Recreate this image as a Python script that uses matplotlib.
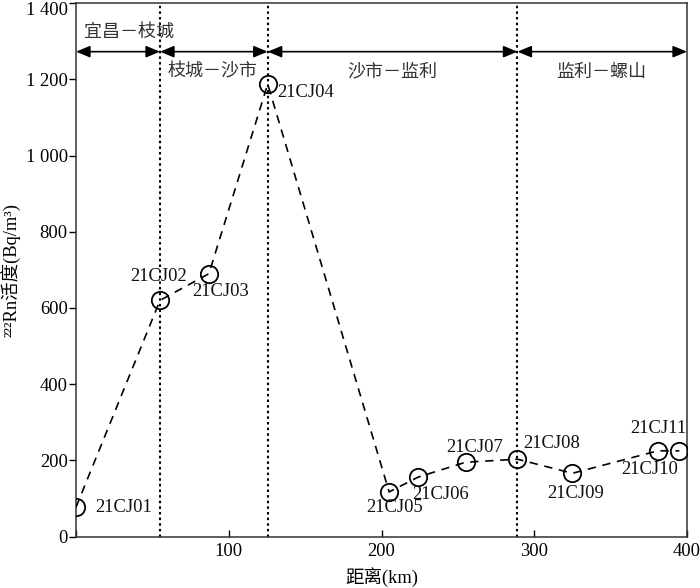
import matplotlib
matplotlib.use("Agg")
import matplotlib.pyplot as plt
import matplotlib.transforms as mtransforms
from matplotlib.ticker import FuncFormatter, MultipleLocator

FAM = ['Liberation Serif', 'Noto Sans CJK SC']
plt.rcParams['font.family'] = FAM

# ---- data ----
stations = ['21CJ01', '21CJ02', '21CJ03', '21CJ04', '21CJ05', '21CJ06',
            '21CJ07', '21CJ08', '21CJ09', '21CJ10', '21CJ11']
distance_km = [0, 55, 87, 125.5, 205, 224, 255, 289, 325, 381, 395]
rn_activity = [77, 620, 690, 1188, 117, 156, 195, 203, 166, 225, 225]

boundaries = [0, 55, 125.5, 289, 400]
boundary_lines = [55, 125.5, 289]
section_names = ['宜昌－枝城', '枝城－沙市', '沙市－监利', '监利－螺山']
section_label_x = [34.6, 89.7, 207, 343.7]
section_label_y = [1325, 1220, 1220, 1220]

# label offsets in pixels (dx, dy, ha)
label_offsets = [(19, 0, 'left'), (-1, 24, 'center'), (12, -18, 'center'),
                 (10, -8, 'left'), (5, -16, 'center'), (22, -17, 'center'),
                 (9, 15, 'center'), (6, 16, 'left'), (3, -20, 'center'),
                 (-8, -19, 'center'), (-21, 22, 'center')]

fig = plt.figure(figsize=(7.0, 5.88), dpi=100)
ax = fig.add_axes([76/700, 1-536.5/588, (687-76)/700, (536.5-3.3)/588])

ax.set_xlim(0, 400)
ax.set_ylim(0, 1400)

for xv in boundary_lines:
    ax.axvline(xv, color='black', linestyle=(0, (1.2, 1.5)), lw=1.5, zorder=1)

ax.plot(distance_km, rn_activity, color='black', lw=1.2,
        linestyle=(0, (5, 4)), marker='o', markersize=12.5,
        markerfacecolor='none', markeredgecolor='black', markeredgewidth=1.3,
        zorder=3)

for name, x, y, (dx, dy, ha) in zip(stations, distance_km, rn_activity, label_offsets):
    ax.annotate(name, (x, y), xytext=(dx, dy), textcoords='offset pixels',
                ha=ha, va='center', fontsize=13.3, family=FAM, color='#111111')

arrow_y = 1273
for a, b in zip(boundaries[:-1], boundaries[1:]):
    ax.annotate('', xy=(b, arrow_y), xytext=(a, arrow_y),
                arrowprops=dict(arrowstyle='<|-|>,head_length=0.6,head_width=0.25',
                                mutation_scale=14, shrinkA=0, shrinkB=0,
                                color='black', lw=1.2))

for name, x, y in zip(section_names, section_label_x, section_label_y):
    ax.text(x, y, name, ha='center', va='center', fontsize=13,
            family=['Noto Sans CJK SC', 'Liberation Serif'], color='#333333')

ax.xaxis.set_major_locator(MultipleLocator(100))
ax.yaxis.set_major_locator(MultipleLocator(200))
ax.xaxis.set_major_formatter(FuncFormatter(lambda v, p: '' if v == 0 else f'{int(v)}'))
ax.yaxis.set_major_formatter(FuncFormatter(lambda v, p: f'{int(v):,}'.replace(',', ' ')))

ax.tick_params(axis='x', direction='in', length=5, width=1, pad=5, labelsize=13.3)
ax.tick_params(axis='y', direction='out', length=5, width=1, pad=1, labelsize=13.3)
for s in ax.spines.values():
    s.set_linewidth(1.1)
    s.set_color('#333333')

ax.set_xlabel('距离(km)', fontsize=13.3, family=FAM, labelpad=5)
ax.set_ylabel('²²²Rn活度(Bq/m³)', fontsize=13.3, family=FAM, labelpad=4)

fig.canvas.draw()
# shift the top y tick label (1 400) slightly down so it stays inside the figure
top_tick = [t for t in ax.yaxis.get_major_ticks() if abs(t.get_loc() - 1400) < 1e-6]
for t in top_tick:
    t.label1.set_transform(t.label1.get_transform() +
                           mtransforms.ScaledTranslation(0, -3.5/72, fig.dpi_scale_trans))

fig.savefig('out.png', dpi=100)
